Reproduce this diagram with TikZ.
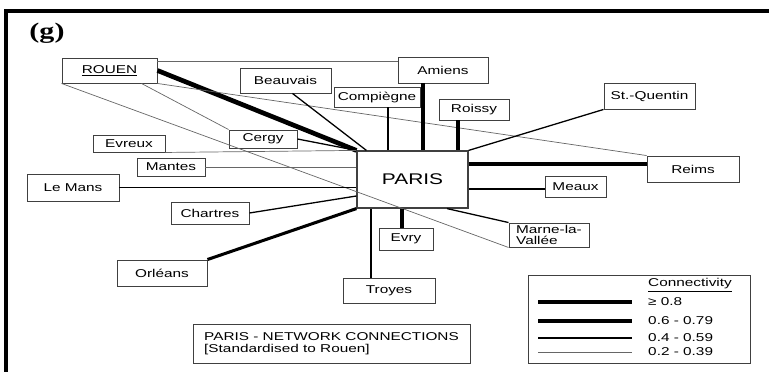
\documentclass[tikz,border=0pt]{standalone}
\usepackage{fontspec}
\setmainfont{Liberation Sans}[FakeStretch=1.35]
\newfontfamily\panelfont{Liberation Serif}[FakeStretch=1.35]
\usetikzlibrary{calc}
\tikzset{town/.style={draw=black!75, line width=0.8pt, inner sep=0pt, font=\fontsize{9.7}{11}\selectfont}}
\tikzset{boxsize/.style 2 args={minimum width=#1*0.03cm, minimum height=#2*0.03cm}}
\tikzset{legendtext/.style={inner sep=0pt, anchor=west, font=\fontsize{9.7}{11}\selectfont}}
\tikzset{conn a/.style={line width=4pt}, conn b/.style={line width=2.6pt},
         conn c/.style={line width=1.1pt}, conn d/.style={line width=0.6pt, black!60}}

\begin{document}
\begin{tikzpicture}[x=0.03cm, y=-0.03cm]
            \useasboundingbox (0,0) rectangle (769,372);
            \draw[line width=2.6pt] (6,372) -- (6,11) -- (769,11);
            \node[font={\panelfont\fontsize{19}{21}\selectfont\bfseries}] (panel) at (47,33) {(g)};
            \node[town, boxsize={95}{25}] (rouen) at (109.5,70.5) {\underline{ROUEN}};
            \node[town, boxsize={91}{25}] (beauvais) at (285.5,80.5) {Beauvais};
            \node[town, boxsize={86}{20}] (compiegne) at (377,97) {Compiègne};
            \node[town, boxsize={90}{26}] (amiens) at (443,70) {Amiens};
            \node[town, boxsize={70}{21}] (roissy) at (474,109.5) {Roissy};
            \node[town, boxsize={91}{26}] (stquentin) at (649.5,96) {St.-Quentin};
            \node[town, boxsize={92}{26}] (reims) at (693,169) {Reims};
            \node[town, boxsize={111}{57}, line width=1pt, font=\fontsize{13.2}{15}\selectfont] (paris) at (412.5,179.5) {PARIS};
            \node[town, boxsize={61}{21}] (meaux) at (575.5,186.5) {Meaux};
            \node[town, boxsize={68}{18}] (cergy) at (263,139) {Cergy};
            \node[town, boxsize={72}{17}] (evreux) at (129,143.5) {Evreux};
            \node[town, boxsize={68}{18}] (mantes) at (171,167) {Mantes};
            \node[town, boxsize={92}{27}] (lemans) at (73,187.5) {Le Mans};
            \node[town, boxsize={78}{22}] (chartres) at (210,213) {Chartres};
            \node[town, boxsize={90}{26}] (orleans) at (162,273) {Orléans};
            \node[town, boxsize={54}{22}] (evry) at (406,239) {Evry};
            \node[town, boxsize={92}{25}] (troyes) at (389,290.5) {Troyes};
            \node[town, boxsize={80}{24}, align=left, font=\fontsize{9.7}{9.5}\selectfont] (marne) at (549,235) {Marne-la-\\Vallée};
            \node[town, boxsize={277}{39}, align=left, font=\fontsize{9.7}{10.5}\selectfont] (caption) at (331.5,343.5) {PARIS - NETWORK CONNECTIONS\\{[}Standardised to Rouen{]}};

            \draw[conn a] (rouen.east) -- (paris.north west);
            \draw[conn d] ($(rouen.north east)+(0,4)$) -- ($(amiens.north west)+(0,5)$);
            \draw[conn d] ($(rouen.south)+(32,0)$) -- (cergy.north west);
            \draw[conn d] (rouen.south west) -- (marne.south west);
            \draw[conn d] (rouen.south east) -- (reims.north west);
            \draw[conn c] ($(beauvais.south)+(7,0)$) -- ($(paris.north west)+(10,0)$);
            \draw[conn c] (cergy.east) -- (paris.north west);
            \draw[conn c] ($(compiegne.south)+(11,0)$) coordinate (cp) -- (cp |- paris.north);
            \draw[conn a] ($(amiens.south)+(-20,0)$) coordinate (am) -- (am |- paris.north);
            \draw[conn b] ($(roissy.south)+(-16,0)$) coordinate (ro) -- (ro |- paris.north);
            \draw[conn c] (paris.north east) -- (stquentin.south west);
            \draw[conn a] ($(reims.west)+(0,-5)$) coordinate (re) -- (re -| paris.east);
            \draw[conn c] ($(meaux.west)+(0,2.5)$) coordinate (me) -- (me -| paris.east);
            \draw[conn c] ($(paris.south)+(34.5,0)$) -- (marne.north west);
            \draw[conn b] ($(evry.north)+(-4,0)$) coordinate (ev) -- (ev |- paris.south);
            \draw[conn c] ($(troyes.north)+(-18,0)$) coordinate (tr) -- (tr |- paris.south);
            \draw[conn b] (orleans.north east) -- (paris.south west);
            \draw[conn c] (chartres.east) -- ($(paris.west)+(0,16.5)$);
            \draw[conn c] (lemans.east) -- (lemans.east -| paris.west);
            \draw[conn d] (mantes.east) -- (mantes.east -| paris.west);
            \draw[conn d] (evreux.south east) -- (paris.north west);

            \node[town, boxsize={222}{88}] (legend) at (639,319) {};
            \node[legendtext] (conntitle) at (648,285) {\underline{Connectivity}};
            \foreach \yy/\w/\lab [count=\i] in {302/a/{≥ 0.8}, 321/b/{0.6 - 0.79}, 338/c/{0.4 - 0.59}, 352/d/{0.2 - 0.39}} {
                \node[legendtext] (range\i) at (648,\yy) {\lab};
                \draw[conn \w] (538,\yy) -- (632,\yy);
            }
        \end{tikzpicture}
\end{document}
